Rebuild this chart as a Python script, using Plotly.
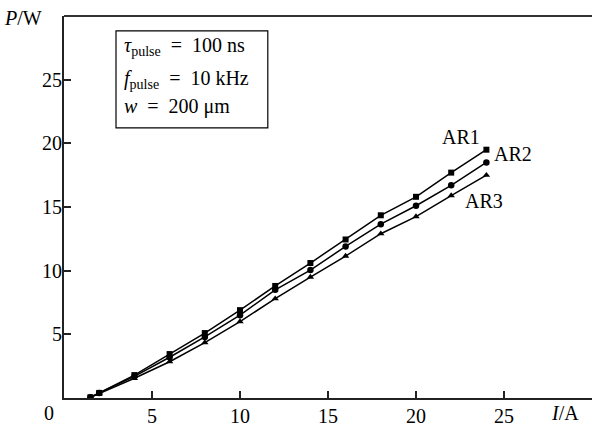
import plotly.graph_objects as go

current = [1.5, 2, 4, 6, 8, 10, 12, 14, 16, 18, 20, 22, 24]
ar1 = [0.05, 0.4, 1.8, 3.45, 5.1, 6.9, 8.8, 10.6, 12.45, 14.35, 15.8, 17.7, 19.5]
ar2 = [0.05, 0.4, 1.7, 3.2, 4.8, 6.5, 8.5, 10.05, 11.9, 13.65, 15.1, 16.7, 18.5]
ar3 = [0.05, 0.35, 1.55, 2.85, 4.35, 6.0, 7.8, 9.5, 11.15, 12.9, 14.25, 15.9, 17.5]
series_names = ["AR1", "AR2", "AR3"]
x_ticks = [5, 10, 15, 20, 25]
y_ticks = [5, 10, 15, 20, 25]

FONT = "Liberation Serif"
FS = 20
fig = go.Figure()
for name, vals, sym, ms in zip(series_names, [ar1, ar2, ar3],
                               ["square", "circle", "triangle-up"], [6, 6.5, 6.5]):
    fig.add_trace(go.Scatter(x=current, y=vals, mode="lines+markers", name=name,
                             line=dict(color="black", width=1.5),
                             marker=dict(symbol=sym, size=ms, color="black")))

fig.update_layout(
    width=592, height=430, showlegend=False,
    margin=dict(l=64, r=0, t=16, b=32),
    paper_bgcolor="white", plot_bgcolor="white",
    font=dict(family=FONT, size=FS, color="black"),
    xaxis=dict(range=[0, 30], tickvals=x_ticks, ticks="inside", ticklen=7,
               tickwidth=1.5, tickcolor="#222", showline=True, linecolor="#222",
               linewidth=2, showgrid=False, zeroline=False,
               tickfont=dict(family=FONT, size=FS), ticklabelstandoff=-1),
    yaxis=dict(range=[0, 30], tickvals=y_ticks, ticks="inside", ticklen=7,
               tickwidth=1.5, tickcolor="#222", showline=True, linecolor="#222",
               linewidth=2, showgrid=False, zeroline=False,
               tickfont=dict(family=FONT, size=FS), ticklabelstandoff=-4),
)

# top frame line and legend box
fig.add_shape(type="line", xref="paper", yref="paper", x0=0, x1=1, y0=1, y1=1,
              line=dict(color="#333", width=2))
fig.add_shape(type="rect", xref="paper", yref="paper", x0=0.0985, x1=0.386,
              y0=0.707, y1=0.961, line=dict(color="black", width=1.2))

box_lines = ["<i>τ</i><sub>pulse</sub>  =  100 ns",
             "<i>f</i><sub>pulse</sub>  =  10 kHz",
             "<i>w</i>  =  200 μm"]
box_py = [46, 79, 107]
for t, py in zip(box_lines, box_py):
    fig.add_annotation(text=t, xref="paper", yref="paper", x=(122 - 64) / 528,
                       y=(398 - py) / 382,
                       xanchor="left", yanchor="middle", showarrow=False,
                       font=dict(family=FONT, size=FS))

# series labels
label_pos = [(461, 137), (513, 154), (484, 201)]
for name, (px, py) in zip(series_names, label_pos):
    fig.add_annotation(text=name, xref="paper", yref="paper",
                       x=(px - 64) / 528, y=(398 - py) / 382,
                       xanchor="center", yanchor="middle", showarrow=False,
                       font=dict(family=FONT, size=FS))

# axis titles and origin label
fig.add_annotation(text="<i>P</i>/W", xref="paper", yref="paper",
                   x=(23 - 64) / 528, y=(398 - 18) / 382, xanchor="center",
                   yanchor="middle", showarrow=False, font=dict(family=FONT, size=FS))
fig.add_annotation(text="<i>I</i>/A", xref="paper", yref="paper",
                   x=(565 - 64) / 528, y=(398 - 413) / 382, xanchor="center",
                   yanchor="middle", showarrow=False, font=dict(family=FONT, size=FS))
fig.add_annotation(text="0", xref="paper", yref="paper",
                   x=(49 - 64) / 528, y=(398 - 413) / 382, xanchor="center",
                   yanchor="middle", showarrow=False, font=dict(family=FONT, size=FS))

fig.write_html("out.html")
